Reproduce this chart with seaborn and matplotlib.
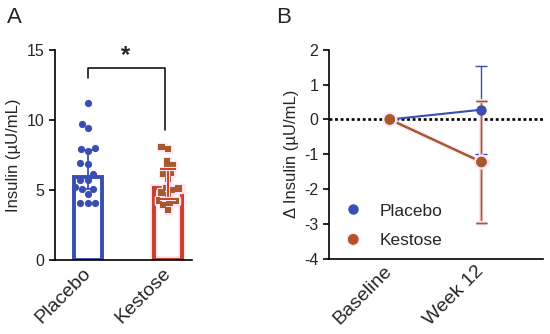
import numpy as np
import pandas as pd
import matplotlib
matplotlib.use("Agg")
import matplotlib.pyplot as plt
import matplotlib.patheffects as pe
from matplotlib.lines import Line2D
import seaborn as sns

sns.set_theme(style="ticks")
plt.rcParams["font.family"] = ["Liberation Sans", "DejaVu Sans"]
plt.rcParams["axes.unicode_minus"] = False

# ---- data ----
groups = ["Placebo", "Kestose"]
placebo_insulin = [11.19, 9.69, 9.40, 7.98, 7.90, 7.74, 6.86, 6.90, 6.10,
                   5.71, 5.71, 5.07, 5.17, 5.07, 4.71, 4.05, 4.05, 4.05]
kestose_insulin = [8.05, 7.93, 7.02, 6.79, 6.55, 6.19, 6.14, 5.79, 5.15,
                   5.10, 5.00, 4.80, 4.64, 4.25, 4.20, 4.10, 3.90, 3.57]

timepoints = ["Baseline", "Week 12"]
placebo_delta = [0.0, 0.28]
placebo_sd = [0.0, 1.26]
kestose_delta = [0.0, -1.22]
kestose_sd = [0.0, 1.76]

blue = "#3a4db3"
red = "#c8432b"
brown = "#a65a2c"
pink = "#fde4f5"
colors_bar = {"Placebo": blue, "Kestose": red}
colors_pt = {"Placebo": blue, "Kestose": brown}
markers = {"Placebo": "o", "Kestose": "s"}

fig = plt.figure(figsize=(5.5, 3.34), dpi=100)
axA = fig.add_axes([0.100, 0.222, 0.249, 0.629])
axB = fig.add_axes([0.598, 0.225, 0.389, 0.626])

# ---- Panel A ----
dfA = pd.DataFrame({
    "group": ["Placebo"] * len(placebo_insulin) + ["Kestose"] * len(kestose_insulin),
    "value": placebo_insulin + kestose_insulin,
})
for i, g in enumerate(groups):
    sub = dfA[dfA["group"] == g]
    n_patches = len(axA.patches)
    sns.barplot(data=sub, x="group", y="value", order=groups,
                estimator=np.median, errorbar=None,
                fill=False, color=colors_bar[g], linewidth=2.8, width=0.35,
                ax=axA)
    if g == "Kestose":
        for art in axA.patches[n_patches:]:
            art.set_path_effects([pe.withStroke(linewidth=5.5, foreground=pink),
                                  pe.Normal()])
    med = np.median(sub["value"])
    q1, q3 = np.percentile(sub["value"], [25, 75])
    eb = axA.errorbar([i], [med], yerr=[[med - q1], [q3 - med]], fmt="none",
                      ecolor=colors_bar[g], elinewidth=1.3, capsize=6,
                      capthick=1.3, zorder=6)
    if g == "Kestose":
        for art in list(eb.lines[1]) + list(eb.lines[2]):
            art.set_path_effects([pe.withStroke(linewidth=3, foreground=pink),
                                  pe.Normal()])
for g in groups:
    sub = dfA[dfA["group"] == g]
    n_coll = len(axA.collections)
    sns.swarmplot(data=sub, x="group", y="value", order=groups,
                  color=colors_pt[g], marker=markers[g],
                  size=5.2 if g == "Placebo" else 4.6, linewidth=0,
                  ax=axA, zorder=4)
    if g == "Kestose":
        for art in axA.collections[n_coll:]:
            art.set_path_effects([pe.withStroke(linewidth=2.5, foreground=pink),
                                  pe.Normal()])

axA.set_xlim(-0.41, 1.3)
axA.set_ylim(0, 15)
axA.set_yticks([0, 5, 10, 15])
axA.set_xlabel("")
axA.set_ylabel("Insulin (µU/mL)", fontsize=12)
axA.tick_params(axis="y", labelsize=11.5, length=4, width=1.2, color="black")
axA.tick_params(axis="x", length=0, labelsize=14, pad=8)
for lbl in axA.get_xticklabels():
    lbl.set_rotation(45)
    lbl.set_ha("right")
    lbl.set_va("center")
    lbl.set_rotation_mode("anchor")
sns.despine(ax=axA)
for s in ["left", "bottom"]:
    axA.spines[s].set_linewidth(1.2)
    axA.spines[s].set_color("black")

# significance bracket
axA.plot([0, 0, 0.96, 0.96], [13.0, 13.7, 13.7, 9.3], color="black", lw=1.1)
axA.text(0.47, 13.75, "*", ha="center", va="bottom", fontsize=17, fontweight="bold")

# ---- Panel B ----
dfB = pd.DataFrame({
    "time": timepoints * 2,
    "group": ["Placebo"] * 2 + ["Kestose"] * 2,
    "delta": placebo_delta + kestose_delta,
})
axB.axhline(0, color="black", lw=1.9, ls=(0, (1.1, 1.0)), zorder=1)
sns.lineplot(data=dfB, x="time", y="delta", hue="group", hue_order=groups,
             palette={"Placebo": blue, "Kestose": brown}, marker="o",
             markersize=7.5, markeredgewidth=0, linewidth=1.5, sort=False,
             legend=False, ax=axB, zorder=3)
for ln in axB.lines:
    if matplotlib.colors.same_color(ln.get_color(), brown):
        ln.set_path_effects([pe.withStroke(linewidth=3.5, foreground=pink),
                             pe.Normal()])
eb1 = axB.errorbar(timepoints[1:], placebo_delta[1:], yerr=placebo_sd[1:], fmt="none",
                   ecolor=blue, elinewidth=1.0, capsize=4, capthick=1.0, zorder=2)
eb2 = axB.errorbar(timepoints[1:], kestose_delta[1:], yerr=kestose_sd[1:], fmt="none",
                   ecolor=brown, elinewidth=1.0, capsize=4, capthick=1.0, zorder=2)
for art in list(eb2.lines[1]) + list(eb2.lines[2]):
    art.set_path_effects([pe.withStroke(linewidth=3, foreground=pink), pe.Normal()])

axB.set_xlim(-0.665, 1.67)
axB.set_ylim(-4, 2)
axB.set_yticks([-4, -3, -2, -1, 0, 1, 2])
axB.set_xlabel("")
axB.set_ylabel("Δ Insulin (µU/mL)", fontsize=12)
axB.tick_params(axis="y", labelsize=11.5, length=4, width=1.2, color="black")
axB.tick_params(axis="x", length=0, labelsize=14, pad=7)
for lbl in axB.get_xticklabels():
    lbl.set_rotation(45)
    lbl.set_ha("right")
    lbl.set_va("center")
    lbl.set_rotation_mode("anchor")
sns.despine(ax=axB)
for s in ["left", "bottom"]:
    axB.spines[s].set_linewidth(1.2)
    axB.spines[s].set_color("black")

handles = [Line2D([], [], marker="o", ls="none", color=blue, markersize=6.5),
           Line2D([], [], marker="o", ls="none", color="#b8502a", markersize=6.5,
                  path_effects=[pe.withStroke(linewidth=3, foreground=pink), pe.Normal()])]
axB.legend(handles, groups, loc="lower left", bbox_to_anchor=(0.0, -0.025),
           frameon=False, fontsize=12.5, handlelength=1.0, handletextpad=1.0,
           labelspacing=0.85)

fig.text(0.012, 0.931, "A", fontsize=16, va="baseline")
fig.text(0.502, 0.931, "B", fontsize=16, va="baseline")

fig.savefig("out.png", dpi=100)
